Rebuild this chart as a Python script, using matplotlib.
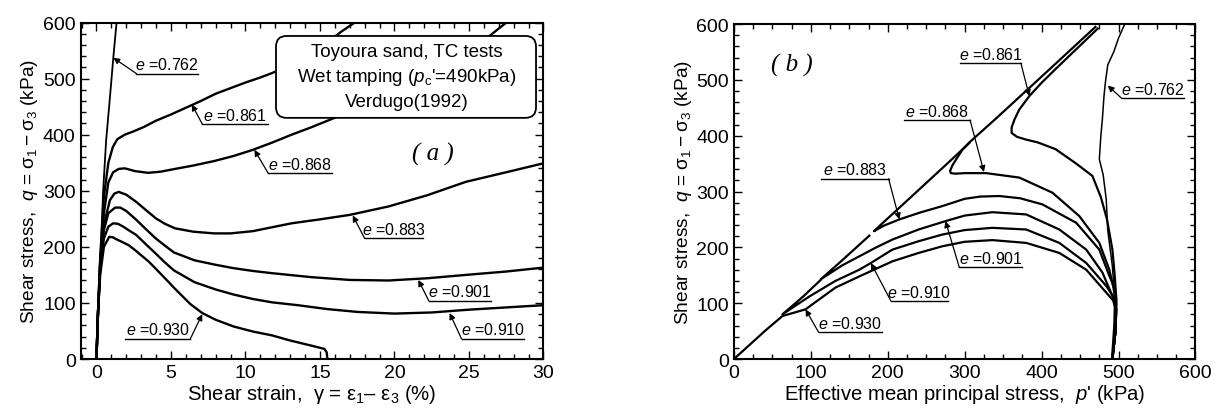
import numpy as np
import matplotlib.pyplot as plt
from matplotlib.patches import FancyBboxPatch
from matplotlib.ticker import MultipleLocator

plt.rcParams['font.family'] = ['Liberation Sans', 'DejaVu Sans']
plt.rcParams['mathtext.fontset'] = 'custom'
plt.rcParams['mathtext.rm'] = 'Liberation Sans'
plt.rcParams['mathtext.it'] = 'Liberation Sans:italic'

# (a) shear strain (%) vs shear stress q (kPa)
sa_762 = [0, 0.15, 0.3, 0.45, 0.65, 0.9, 1.13, 1.36]
qa_762 = [0, 100, 200, 300, 390, 465, 537, 603]
sa_861 = [0, 0.1, 0.25, 0.5, 0.8, 1.1, 1.4, 1.9, 2.5, 3.2, 4, 5, 6, 7, 8, 9, 10, 11, 11.8,
          12.7, 13.5, 14.3, 15, 15.8, 16.5, 17.5]
qa_861 = [0, 80, 180, 290, 350, 378, 392, 400, 406, 414, 425, 436, 448, 460, 473, 483, 493,
          502, 510, 521, 533, 545, 557, 571, 585, 603]
sa_868 = [0, 0.1, 0.25, 0.5, 0.8, 1.12, 1.5, 1.9, 2.6, 3.46, 4.3, 5.28, 6.5, 7.9, 9.2, 10.5,
          11.8, 13.1, 14.4, 15.7, 18, 20, 22, 24, 26, 27.6]
qa_868 = [0, 80, 175, 260, 315, 333, 339, 340, 335, 332, 334, 339, 345, 353, 362, 373,
          386, 400, 413, 427, 452, 476, 505, 535, 568, 602]
sa_883 = [0, 0.1, 0.25, 0.5, 0.9, 1.2, 1.5, 2, 2.68, 3.3, 3.98, 4.6, 5.28, 6.5, 7.9, 9, 10.5,
          11.8, 13.1, 15, 17, 19.6, 22.2, 24.8, 27.5, 30]
qa_883 = [0, 80, 170, 240, 283, 295, 298, 293, 280, 266, 251, 241, 233, 227, 224, 224, 228,
          235, 242, 249, 257, 272, 292, 316, 333, 349]
sa_901 = [0, 0.1, 0.25, 0.5, 0.8, 1.25, 1.6, 2, 2.68, 3.3, 3.98, 4.6, 5.2, 6.58, 8, 9.2, 10.5,
          11.8, 14.4, 17, 19.6, 22.2, 24.8, 27.5, 30]
qa_901 = [0, 80, 165, 230, 260, 270, 270, 264, 248, 232, 215, 202, 190, 176, 168, 162, 157,
          153, 146, 141, 140, 144, 150, 156, 163]
sa_910 = [0, 0.1, 0.25, 0.5, 0.8, 1.12, 1.45, 1.8, 2.2, 2.68, 3.3, 3.98, 4.6, 5.2, 6.58, 8,
          9.2, 10.5, 11.8, 13.5, 15.5, 17.5, 20, 22.5, 25, 27.5, 30]
qa_910 = [0, 80, 160, 215, 236, 242, 241, 236, 229, 221, 205, 188, 172, 158, 137, 124,
          115, 107, 101, 96, 89, 84, 81, 83, 88, 92, 96]
sa_930 = [0, 0.1, 0.25, 0.5, 0.86, 1.1, 1.3, 1.7, 2.16, 2.6, 3, 3.5, 3.98, 4.6, 5.28, 6.3,
          7.1, 8, 9.2, 10.5, 11.8, 13, 14.4, 15.3, 15.45, 15.5]
qa_930 = [0, 80, 150, 200, 218, 217, 214, 209, 203, 194, 185, 174, 161, 144, 125, 98,
          82, 70, 58, 49, 42, 33, 24, 18, 12, 0]

# (b) effective mean principal stress p' (kPa) vs q (kPa)
pb_762 = [491, 494, 495, 492, 486, 484, 480, 475, 477, 479, 481, 483, 486, 494, 500, 508]
qb_762 = [0, 60, 108, 166, 230, 286, 330, 358, 400, 430, 470, 497, 527, 551, 575, 600]
pb_861 = [492, 496, 497, 495, 492, 485, 477, 466, 445, 418, 395, 380, 368, 361, 361, 365,
          371, 384, 400, 420, 445, 473]
qb_861 = [0, 50, 110, 150, 196, 250, 290, 328, 350, 376, 388, 393, 398, 405, 415, 430,
          447, 471, 495, 522, 555, 592]
pb_868 = [492, 496, 497, 493, 488, 475, 449, 414, 371, 328, 300, 288, 282, 281, 284, 289,
          297, 306, 340, 400, 470]
qb_868 = [0, 50, 100, 130, 160, 208, 256, 298, 325, 333, 333, 332, 333, 337, 347, 358,
          375, 388, 430, 506, 595]
pb_883 = [492, 496, 497, 494, 488, 475, 445, 401, 372, 345, 320, 300, 271, 241, 215, 195,
          182, 185, 230, 278, 306]
qb_883 = [0, 50, 107, 130, 149, 196, 244, 277, 288, 292, 291, 287, 274, 262, 250, 239,
          229, 233, 290, 351, 387]
pb_901 = [492, 496, 497, 492, 479, 458, 423, 380, 336, 300, 275, 240, 206, 185, 163, 141,
          113, 140, 176]
qb_901 = [0, 50, 90, 113, 155, 196, 232, 259, 263, 257, 247, 232, 214, 200, 184, 168,
          143, 176, 221]
pb_910 = [492, 496, 497, 493, 484, 458, 423, 380, 336, 300, 271, 240, 206, 178, 163, 132,
          98, 63, 90, 113]
qb_910 = [0, 50, 90, 112, 131, 172, 208, 232, 235, 231, 223, 211, 196, 172, 160, 140,
          112, 80, 112, 142]
pb_930 = [492, 496, 497, 493, 484, 458, 423, 380, 336, 300, 271, 240, 206, 163, 132, 93,
          63, 40, 20, 0]
qb_930 = [0, 50, 85, 105, 119, 160, 190, 208, 213, 210, 202, 190, 175, 148, 128, 89,
          77, 50, 25, 0]

curves_a = [(sa_762, qa_762, 1.3), (sa_861, qa_861, 1.7), (sa_868, qa_868, 1.7),
            (sa_883, qa_883, 1.7), (sa_901, qa_901, 1.7), (sa_910, qa_910, 1.7),
            (sa_930, qa_930, 1.7)]
curves_b = [(pb_762, qb_762, 1.1), (pb_861, qb_861, 1.6), (pb_868, qb_868, 1.6),
            (pb_883, qb_883, 1.6), (pb_901, qb_901, 1.6), (pb_910, qb_910, 1.6),
            (pb_930, qb_930, 1.6)]

# label: text, underline x0, x1, underline y, arrow tip, leader starts at left end?
labels_a = [('0.762', 2.68, 6.79, 509, (1.13, 537), True),
            ('0.861', 7.1, 11.5, 419, (6.4, 454), True),
            ('0.868', 11.53, 15.8, 331, (10.6, 373), True),
            ('0.883', 18.0, 21.9, 215, (17.2, 256), True),
            ('0.901', 22.3, 26.5, 104, (21.6, 141), True),
            ('0.910', 24.5, 28.7, 36, (23.7, 82), True),
            ('0.930', 1.9, 6.3, 36, (7.1, 80), False)]
labels_b = [('0.762', 504, 585, 467, (486, 490), True),
            ('0.861', 294, 373, 530, (384, 471), False),
            ('0.868', 221, 307, 428, (325, 335), False),
            ('0.883', 113, 201, 323, (215, 250), False),
            ('0.901', 293, 375, 164, (275, 247), True),
            ('0.910', 204, 278, 104, (178, 172), True),
            ('0.930', 110, 193, 48, (93, 89), True)]


def add_label(ax, val, x0, x1, yu, tip, left):
    ax.plot([x0, x1], [yu, yu], color='k', lw=1.0, zorder=4)
    start = (x0, yu) if left else (x1, yu)
    ax.annotate('', xy=tip, xytext=start,
                arrowprops=dict(arrowstyle='-|>', color='k', lw=0.9,
                                mutation_scale=9, shrinkA=0, shrinkB=0), zorder=4)
    ax.annotate(r'$e$ =' + val, xy=((x0 + x1) / 2, yu), xytext=(0, 1),
                textcoords='offset points', ha='center', va='bottom', fontsize=11.5)


def style_axes(ax, xmaj, xmin):
    ax.xaxis.set_major_locator(MultipleLocator(xmaj))
    ax.xaxis.set_minor_locator(MultipleLocator(xmin))
    ax.yaxis.set_major_locator(MultipleLocator(100))
    ax.yaxis.set_minor_locator(MultipleLocator(20))
    ax.tick_params(which='both', direction='in', top=True, right=True, width=1.0,
                   labelsize=14)
    ax.tick_params(which='major', length=6)
    ax.tick_params(which='minor', length=3.5)
    for sp in ax.spines.values():
        sp.set_linewidth(1.5)


fig = plt.figure(figsize=(12.18, 4.14), dpi=100)
ax1 = fig.add_axes([0.0661, 0.1304, 0.3801, 0.8128])
ax2 = fig.add_axes([0.6026, 0.1304, 0.3789, 0.809])

# panel (a)
for x, y, lw in curves_a:
    ax1.plot(x, y, color='k', lw=lw, zorder=2)
for lab in labels_a:
    add_label(ax1, *lab)
ax1.set_xlim(-1.07, 30)
ax1.set_ylim(0, 600)
style_axes(ax1, 5, 1)
ax1.set_xlabel(r'Shear strain,  γ = $\mathrm{ε}_1$– $\mathrm{ε}_3$ (%)', fontsize=14.6, labelpad=1)
ax1.set_ylabel(r'Shear stress,  $q$ = $\mathrm{σ}_1 - \mathrm{σ}_3$ (kPa)', fontsize=13.8, labelpad=2)

box = FancyBboxPatch((12.05, 430), 29.5 - 12.05, 576 - 430,
                     boxstyle='round,pad=0,rounding_size=0.7', mutation_aspect=27,
                     facecolor='white', edgecolor='k', lw=1.3, zorder=5)
ax1.add_patch(box)
ax1.text(20.8, 549, 'Toyoura sand, TC tests', ha='center', va='center', fontsize=13.5, zorder=6)
ax1.text(20.8, 503, r"Wet tamping ($p_\mathrm{c}$'=490kPa)", ha='center', va='center',
         fontsize=13.5, zorder=6)
ax1.text(20.8, 459, 'Verdugo(1992)', ha='center', va='center', fontsize=13.5, zorder=6)
ax1.text(22.6, 367, '( a )', ha='center', va='center', fontsize=18,
         family='Liberation Serif', style='italic')

# panel (b)
for x, y, lw in curves_b:
    ax2.plot(x, y, color='k', lw=lw, zorder=2)
for lab in labels_b:
    add_label(ax2, *lab)
ax2.set_xlim(0, 600)
ax2.set_ylim(0, 600)
style_axes(ax2, 100, 25)
ax2.set_xlabel(r"Effective mean principal stress,  $p$' (kPa)", fontsize=14.6, labelpad=1)
ax2.set_ylabel(r'Shear stress,  $q$ = $\mathrm{σ}_1 - \mathrm{σ}_3$ (kPa)', fontsize=13.8, labelpad=2)
ax2.text(75, 527, '( b )', ha='center', va='center', fontsize=18,
         family='Liberation Serif', style='italic')

fig.savefig('out.png', dpi=100)
